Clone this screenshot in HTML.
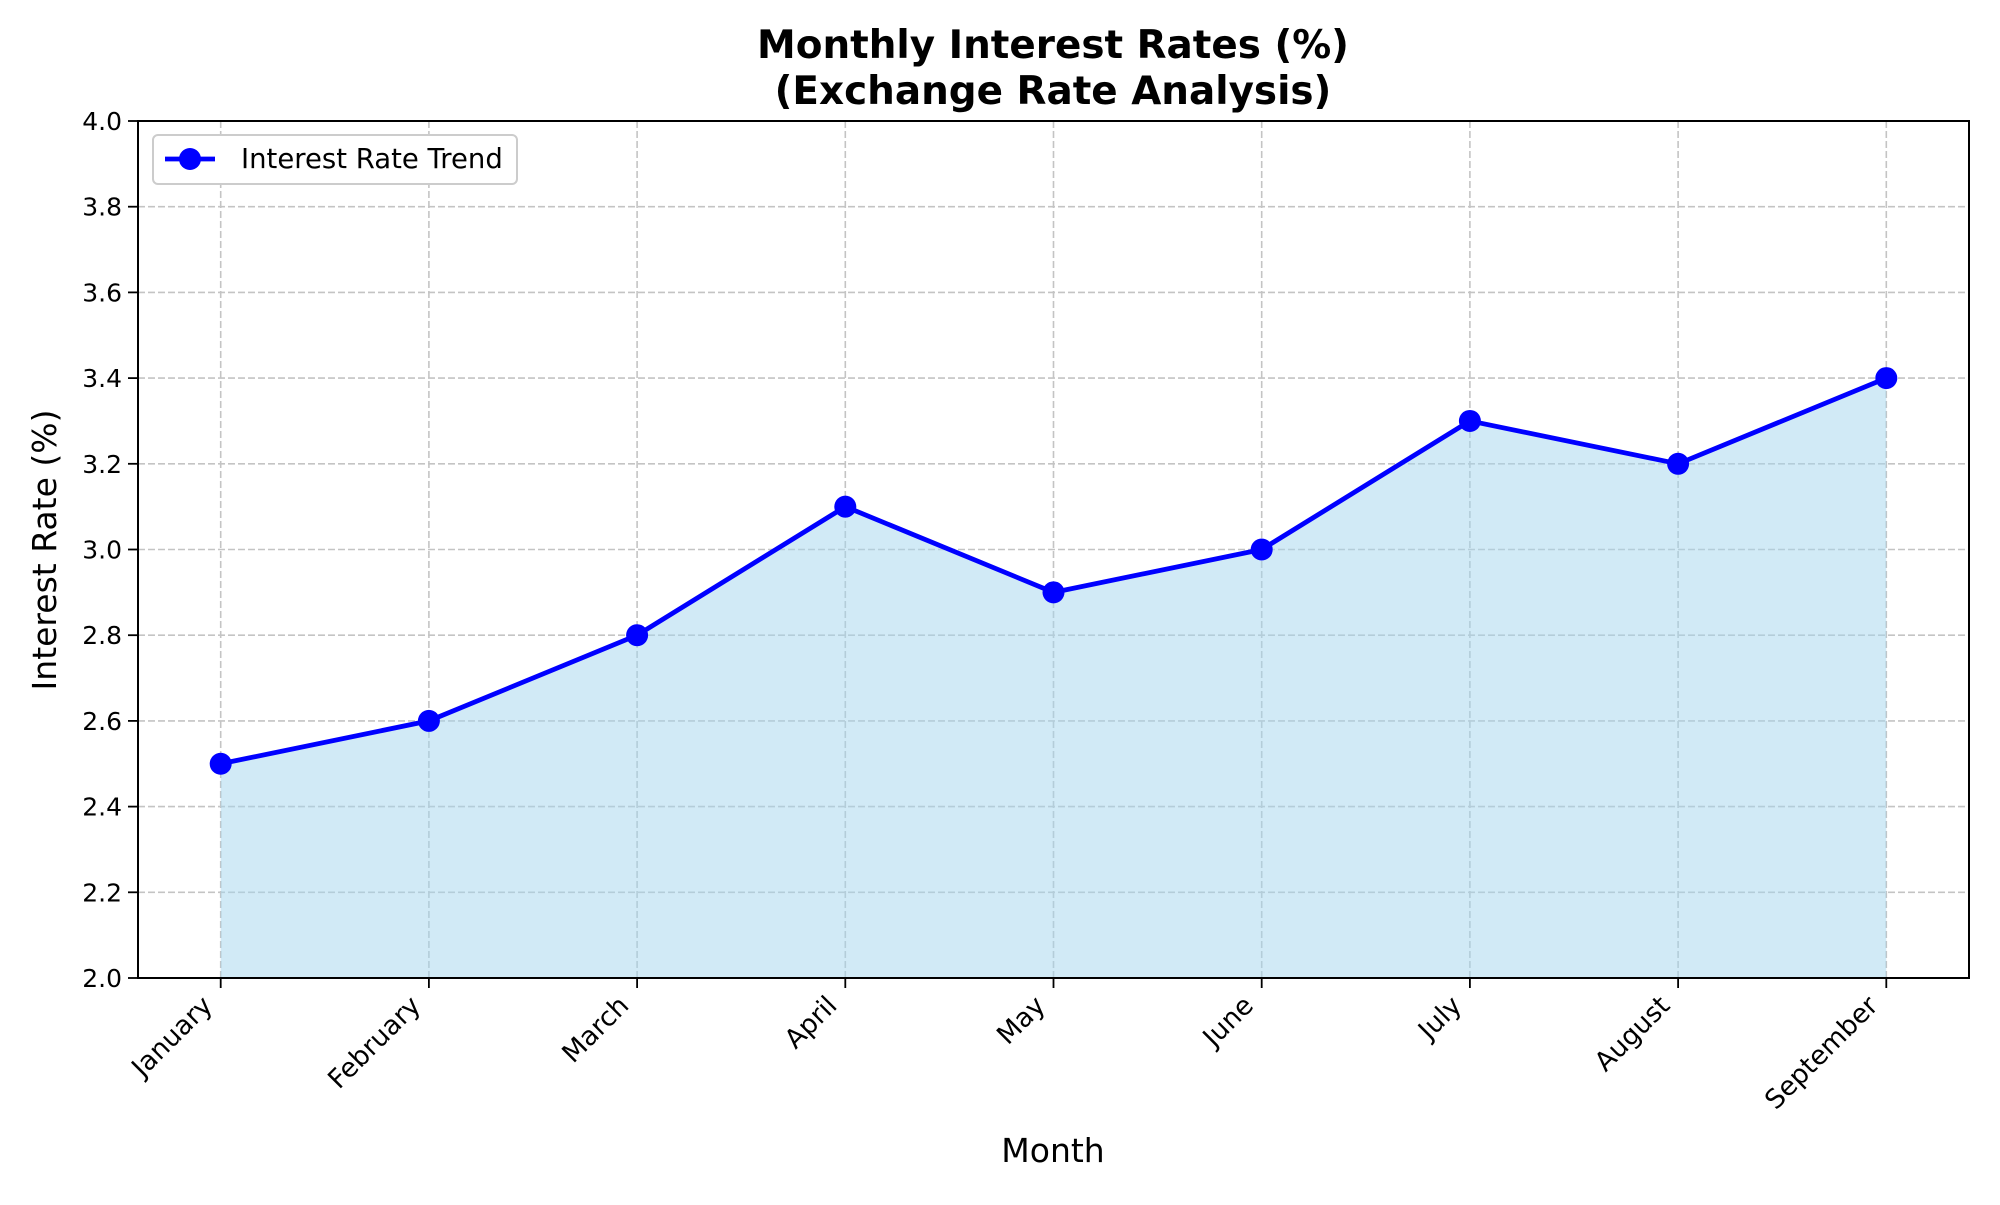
<!DOCTYPE html>
<html><head><meta charset="utf-8"><style>
body{margin:0;background:#fff;}
svg text{font-family:"DejaVu Sans","Liberation Sans",sans-serif;}
</style></head><body>
<svg id="chart" width="2000" height="1200" viewBox="0 0 2000 1200" xmlns="http://www.w3.org/2000/svg">
<rect width="2000" height="1200" fill="#fff"/>
<text x="1053" y="58" text-anchor="middle" font-size="38.9" font-weight="bold">Monthly Interest Rates (%)</text>
<text x="1053" y="104" text-anchor="middle" font-size="38.9" font-weight="bold">(Exchange Rate Analysis)</text>
<g id="grid"></g>
<g id="plot"></g>
<g id="axes"></g>
<text transform="translate(56,550) rotate(-90)" text-anchor="middle" font-size="33">Interest Rate (%)</text>
<text x="1053" y="1162" text-anchor="middle" font-size="33">Month</text>
<g>
<rect x="153" y="135" width="364" height="49" rx="5" fill="#fff" stroke="#ccc" stroke-width="2"/>
<line x1="165" y1="159" x2="215" y2="159" stroke="#0000ff" stroke-width="4.8"/>
<circle cx="190" cy="159" r="11" fill="#0000ff"/>
<text x="241" y="168" font-size="27.5">Interest Rate Trend</text>
</g>
</svg>
<script>
const months=["January","February","March","April","May","June","July","August","September"];
const rates=[2.5,2.6,2.8,3.1,2.9,3.0,3.3,3.2,3.4];
const yTicks=[2.0,2.2,2.4,2.6,2.8,3.0,3.2,3.4,3.6,3.8,4.0];
const L=138,R=1969,T=121,B=978;
const x0=220.7,dx=208.2;
const xs=i=>x0+i*dx;
const ys=v=>B-(v-2)/(4-2)*(B-T);
const NS="http://www.w3.org/2000/svg";
function mk(tag,attrs,parent){const e=document.createElementNS(NS,tag);for(const k in attrs)e.setAttribute(k,attrs[k]);parent.appendChild(e);return e;}
const grid=document.getElementById('grid'),plot=document.getElementById('plot'),axes=document.getElementById('axes');
months.forEach((m,i)=>{
 const g=mk('line',{x1:xs(i),x2:xs(i),y1:T,y2:B,stroke:'#c4c4c4','stroke-width':1.6,'stroke-dasharray':'7,3'},grid);
 
 
 const t=mk('line',{x1:xs(i),x2:xs(i),y1:B,y2:B+10,stroke:'#000','stroke-width':1.8},axes);
 
 
 const lb=mk('text',{'text-anchor':'end','font-size':26.5,transform:`translate(${xs(i)-20},${B+16}) rotate(-45)`,dy:'0.7em'},axes);
 lb.textContent=m;
 
 
});
yTicks.forEach(v=>{
 const g=mk('line',{x1:L,x2:R,y1:ys(v),y2:ys(v),stroke:'#c4c4c4','stroke-width':1.6,'stroke-dasharray':'7,3'},grid);
 
 
 const t=mk('line',{x1:L-10,x2:L,y1:ys(v),y2:ys(v),stroke:'#000','stroke-width':1.8},axes);
 
 
 const lb=mk('text',{x:L-16,y:ys(v)+9,'text-anchor':'end','font-size':25},axes);
 lb.textContent=v.toFixed(1);
 
 
});
let pts=rates.map((v,i)=>`${xs(i)},${ys(v)}`).join(' ');
const area=mk('polygon',{points:`${xs(0)},${ys(2)} ${pts} ${xs(rates.length-1)},${ys(2)}`,fill:'#a3d5ee','fill-opacity':0.5},plot);


const line=mk('polyline',{points:pts,fill:'none',stroke:'#0000ff','stroke-width':4.8,'stroke-linejoin':'round'},plot);


rates.forEach((v,i)=>{
 const c=mk('circle',{cx:xs(i),cy:ys(v),r:11,fill:'#0000ff'},plot);
 
 
});
const frame=mk('rect',{x:L,y:T,width:R-L,height:B-T,fill:'none',stroke:'#000','stroke-width':2},axes);


</script>
</body></html>
